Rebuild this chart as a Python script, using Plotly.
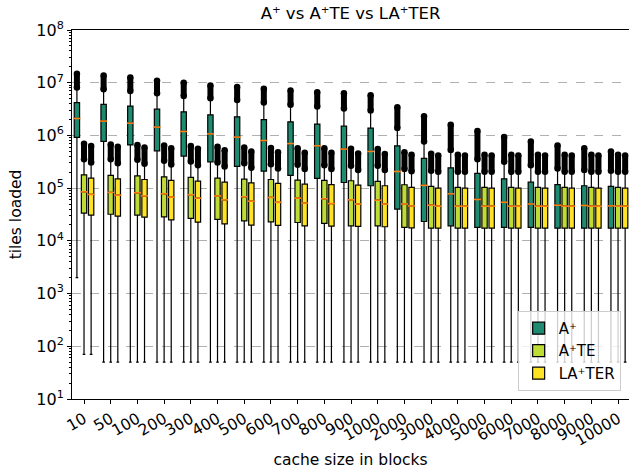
import plotly.graph_objects as go

categories = ["10", "50", "100", "200", "300", "400", "500", "600", "700", "800", "900",
              "1000", "2000", "3000", "4000", "5000", "6000", "7000", "8000", "9000", "10000"]

# A+
ap_q1 = [9.2e5, 7.7e5, 6.6e5, 5.1e5, 4.05e5, 3.15e5, 2.58e5, 2.1e5, 1.74e5, 1.53e5, 1.28e5,
         1.11e5, 4.0e4, 2.33e4, 1.93e4, 1.8e4, 1.8e4, 1.8e4, 1.74e4, 1.74e4, 1.74e4]
ap_med = [2.1e6, 1.87e6, 1.71e6, 1.44e6, 1.19e6, 1.07e6, 9.3e5, 8.0e5, 7.0e5, 6.35e5, 5.5e5,
          4.97e5, 2.07e5, 1.13e5, 7.8e4, 6.1e4, 5.4e4, 5.0e4, 4.75e4, 4.7e4, 4.6e4]
ap_q3 = [4.2e6, 3.87e6, 3.6e6, 3.15e6, 2.8e6, 2.46e6, 2.25e6, 2.0e6, 1.81e6, 1.64e6, 1.5e6,
         1.38e6, 6.35e5, 3.66e5, 2.43e5, 1.9e5, 1.5e5, 1.3e5, 1.17e5, 1.11e5, 1.08e5]
ap_lo = [2000, 50, 50, 50, 50, 50, 50, 50, 50, 50, 50,
         50, 50, 50, 50, 50, 50, 50, 50, 50, 50]
ap_hi = [8.1e6, 7.5e6, 7.0e6, 6.3e6, 5.6e6, 5.1e6, 4.7e6, 4.2e6, 3.8e6, 3.55e6, 3.25e6,
         2.98e6, 1.38e6, 7.7e5, 5.3e5, 3.55e5, 3.15e5, 2.73e5, 2.37e5, 2.22e5, 2.13e5]
ap_max = [1.48e7, 1.37e7, 1.26e7, 1.09e7, 9.96e6, 8.9e6, 8.3e6, 7.7e6, 7.1e6, 6.6e6, 6.3e6,
          5.8e6, 3.44e6, 2.3e6, 1.59e6, 1.21e6, 9.3e5, 7.7e5, 6.46e5, 5.7e5, 4.97e5]

# A+TE
te_q1 = [3.36e4, 3.2e4, 3.08e4, 2.85e4, 2.66e4, 2.55e4, 2.4e4, 2.3e4, 2.23e4, 2.14e4, 1.93e4,
         1.93e4, 1.8e4, 1.74e4, 1.74e4, 1.74e4, 1.74e4, 1.74e4, 1.74e4, 1.74e4, 1.74e4]
te_med = [8.5e4, 8.3e4, 8.15e4, 7.8e4, 7.5e4, 7.1e4, 6.85e4, 6.66e4, 6.46e4, 6.27e4, 6.0e4,
          5.9e4, 5.0e4, 4.75e4, 4.55e4, 4.55e4, 4.55e4, 4.55e4, 4.55e4, 4.55e4, 4.55e4]
te_q3 = [1.79e5, 1.74e5, 1.71e5, 1.64e5, 1.6e5, 1.55e5, 1.48e5, 1.46e5, 1.42e5, 1.4e5, 1.38e5,
         1.34e5, 1.16e5, 1.08e5, 1.03e5, 1.03e5, 1.03e5, 1.03e5, 1.03e5, 1.03e5, 1.03e5]
te_lo = [70, 50, 50, 50, 50, 50, 50, 50, 50, 50, 50,
         50, 50, 50, 50, 50, 50, 50, 50, 50, 50]
te_hi = [3.55e5, 3.55e5, 3.44e5, 3.3e5, 3.2e5, 3.08e5, 2.98e5, 2.85e5, 2.77e5, 2.73e5, 2.65e5,
         2.65e5, 2.3e5, 2.13e5, 2.04e5, 2.04e5, 2.04e5, 2.04e5, 2.04e5, 2.04e5, 2.04e5]
te_max = [6.93e5, 6.75e5, 6.6e5, 6.46e5, 6.27e5, 6.1e5, 5.9e5, 5.8e5, 5.7e5, 5.7e5, 5.57e5,
          5.5e5, 4.82e5, 4.48e5, 4.28e5, 4.28e5, 4.28e5, 4.28e5, 4.28e5, 4.28e5, 4.28e5]

# LA+TER
ter_q1 = [3.08e4, 2.94e4, 2.82e4, 2.5e4, 2.26e4, 2.1e4, 1.99e4, 1.96e4, 1.93e4, 1.9e4, 1.88e4,
          1.85e4, 1.77e4, 1.74e4, 1.74e4, 1.74e4, 1.74e4, 1.74e4, 1.74e4, 1.74e4, 1.74e4]
ter_med = [7.6e4, 7.36e4, 7.15e4, 6.75e4, 6.46e4, 6.0e4, 5.66e4, 5.4e4, 5.2e4, 5.1e4, 5.0e4,
           4.97e4, 4.6e4, 4.55e4, 4.55e4, 4.55e4, 4.55e4, 4.55e4, 4.55e4, 4.55e4, 4.55e4]
ter_q3 = [1.55e5, 1.5e5, 1.46e5, 1.4e5, 1.36e5, 1.3e5, 1.26e5, 1.23e5, 1.19e5, 1.17e5, 1.14e5,
          1.11e5, 1.03e5, 1.0e5, 1.0e5, 1.0e5, 1.0e5, 1.0e5, 1.0e5, 1.0e5, 1.0e5]
ter_lo = [70, 50, 50, 50, 50, 50, 50, 50, 50, 50, 50,
          50, 50, 50, 50, 50, 50, 50, 50, 50, 50]
ter_hi = [3.08e5, 2.98e5, 2.89e5, 2.82e5, 2.73e5, 2.58e5, 2.43e5, 2.37e5, 2.3e5, 2.3e5, 2.22e5,
          2.2e5, 2.1e5, 2.04e5, 2.04e5, 2.04e5, 2.04e5, 2.04e5, 2.04e5, 2.04e5, 2.04e5]
ter_max = [6.27e5, 6.1e5, 5.9e5, 5.7e5, 5.57e5, 5.26e5, 4.97e5, 4.82e5, 4.68e5, 4.68e5, 4.55e5,
           4.42e5, 4.28e5, 4.17e5, 4.17e5, 4.17e5, 4.17e5, 4.17e5, 4.17e5, 4.17e5, 4.17e5]

y_tick_vals = [1e1, 1e2, 1e3, 1e4, 1e5, 1e6, 1e7, 1e8]
y_tick_text = ["10<sup>1</sup>", "10<sup>2</sup>", "10<sup>3</sup>", "10<sup>4</sup>",
               "10<sup>5</sup>", "10<sup>6</sup>", "10<sup>7</sup>", "10<sup>8</sup>"]

FONT = "DejaVu Sans"
series = [
    ("A⁺", "#1e8a70", -0.266, ap_q1, ap_med, ap_q3, ap_lo, ap_hi, ap_max),
    ("A⁺TE", "#bddc36", 0.0, te_q1, te_med, te_q3, te_lo, te_hi, te_max),
    ("LA⁺TER", "#fde225", 0.266, ter_q1, ter_med, ter_q3, ter_lo, ter_hi, ter_max),
]

fig = go.Figure()
for name, color, off, q1, med, q3, lo, hi, mx in series:
    pos = [i + off for i in range(len(categories))]
    fig.add_trace(go.Box(
        name=name, x=pos, q1=q1, median=med, q3=q3, lowerfence=lo, upperfence=hi,
        width=0.2, whiskerwidth=0.5, fillcolor=color,
        line=dict(color="black", width=1.2), boxpoints=False, showlegend=True,
    ))

for name, color, off, q1, med, q3, lo, hi, mx in series:
    pos = [i + off for i in range(len(categories))]
    ox, oy = [], []
    for p, a, b in zip(pos, hi, mx):
        ox += [p, p, None]
        oy += [a, b, None]
    fig.add_trace(go.Scatter(
        x=ox, y=oy, mode="lines+markers", showlegend=False, hoverinfo="skip",
        line=dict(color="black", width=6),
        marker=dict(symbol="circle", size=6.5, color="black", line=dict(width=0)),
    ))
    fig.add_trace(go.Scatter(
        x=pos, y=med, mode="markers", showlegend=False, hoverinfo="skip",
        marker=dict(symbol="line-ew", size=5, color="#ff7f0e",
                    line=dict(color="#ff7f0e", width=1.6)),
    ))

minor_vals = [m * 10 ** e for e in range(1, 8) for m in range(2, 10)]

fig.update_layout(
    width=629, height=469,
    margin=dict(l=72, r=0, t=30, b=70),
    paper_bgcolor="white", plot_bgcolor="white",
    font=dict(family=FONT, size=15, color="black"),
    title=dict(text="A⁺ vs A⁺TE vs LA⁺TER", x=0.5, xref="paper", xanchor="center",
               y=0.972, yref="container", yanchor="middle", font=dict(size=16.5)),
    boxmode="overlay",
    showlegend=True,
    legend=dict(x=0.985, y=0.022, xanchor="right", yanchor="bottom",
                bgcolor="rgba(255,255,255,0.8)", bordercolor="#cccccc", borderwidth=1,
                font=dict(size=15), itemwidth=30, tracegroupgap=2),
)
fig.update_xaxes(
    range=[-0.45, 20.41], tickmode="array", tickvals=list(range(len(categories))),
    ticktext=categories, tickangle=-30, ticks="outside", ticklen=4, tickcolor="black",
    showline=True, linecolor="black", linewidth=1, mirror=True, showgrid=False, zeroline=False,
    tickfont=dict(size=15.5), automargin=False,
    title=dict(text="cache size in blocks", font=dict(size=15.5), standoff=8),
)
fig.update_yaxes(
    type="log", range=[1, 8], tickmode="array", tickvals=y_tick_vals, ticktext=y_tick_text,
    ticks="outside", ticklen=4, tickcolor="black", showline=True, linecolor="black",
    linewidth=1, mirror=False, showgrid=True, gridcolor="#b0b0b0", griddash="dash",
    gridwidth=1, zeroline=False, tickfont=dict(size=16), automargin=False,
    minor=dict(tickvals=minor_vals, ticks="outside", ticklen=2, tickcolor="black", showgrid=False),
    title=dict(text="tiles loaded", font=dict(size=15.5), standoff=10),
)

fig.write_html("out.html", config={"displayModeBar": False},
               post_script="document.body.style.margin='0';")
